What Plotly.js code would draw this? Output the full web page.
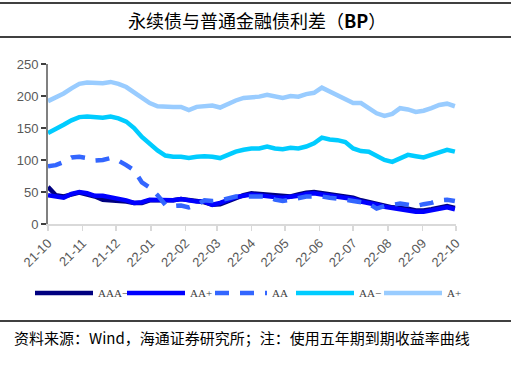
<!DOCTYPE html>
<html>
<head>
<meta charset="utf-8">
<script src="https://cdn.plot.ly/plotly-3.0.1.min.js"></script>
<style>html,body{margin:0;padding:0;background:#fff;}#chart{width:515px;height:372px;}</style>
</head>
<body>
<div id="chart"></div>
<script>
var dates = ["2021-10-01","2021-10-08","2021-10-15","2021-10-22","2021-10-29","2021-11-05","2021-11-12","2021-11-19","2021-11-26","2021-12-03","2021-12-10","2021-12-17","2021-12-24","2021-12-31","2022-01-07","2022-01-14","2022-01-21","2022-01-28","2022-02-04","2022-02-11","2022-02-18","2022-02-25","2022-03-04","2022-03-11","2022-03-18","2022-03-25","2022-04-01","2022-04-08","2022-04-15","2022-04-22","2022-04-29","2022-05-06","2022-05-13","2022-05-20","2022-05-27","2022-06-03","2022-06-10","2022-06-17","2022-06-24","2022-07-01","2022-07-08","2022-07-15","2022-07-22","2022-07-29","2022-08-05","2022-08-12","2022-08-19","2022-08-26","2022-09-02","2022-09-09","2022-09-16","2022-09-23","2022-09-30"];
var seriesNames = ["AAA−","AA+","AA","AA−","A+"];
var aaaMinus = [58,45,43,46,49,46,43,38,37,37,35,33,33,37,37,37,37,39,38,36,34,30,31,36,41,45,48,47,45,44,43,43,46,49,50,48,46,44,43,41,37,34,31,29,26,25,24,21,21,23,26,28,25];
var aaPlus = [45,43,41,47,50,48,44,44,42,40,37,33,34,38,38,38,37,39,37,35,35,30,33,38,42,44,46,45,43,42,41,42,44,47,48,46,44,42,41,39,35,33,30,27,25,24,22,19,19,21,24,26,23];
var aa = [90,92,97,104,105,103,99,100,103,99,92,84,65,57,45,30,28,29,26,30,37,36,37,40,43,43,43,43,43,38,36,38,41,43,43,43,41,40,38,36,34,32,24,28,30,32,30,28,31,33,37,38,36];
var aaMinus = [142,148,155,162,167,168,167,166,168,165,160,150,136,125,115,107,105,105,103,105,106,105,103,108,113,116,118,118,121,118,117,119,118,121,126,135,132,131,128,118,114,113,106,100,97,102,108,106,104,108,112,116,113];
var aPlus = [192,198,204,212,219,221,221,220,222,219,214,206,197,189,184,183,183,183,178,183,184,185,182,188,193,197,198,199,202,199,197,200,199,203,205,213,207,202,196,189,189,181,173,169,172,181,179,175,177,181,186,188,184];
var yTicks = [0,50,100,150,200,250];
var xTickVals = ["2021-10-01","2021-11-01","2021-12-01","2022-01-01","2022-02-01","2022-03-01","2022-04-01","2022-05-01","2022-06-01","2022-07-01","2022-08-01","2022-09-01","2022-10-01"];
var xTickText = ["21-10","21-11","21-12","22-01","22-02","22-03","22-04","22-05","22-06","22-07","22-08","22-09","22-10"];
var titleText = "永续债与普通金融债利差（<b>BP</b>）";
var sourceText = "资料来源：Wind，海通证券研究所；注：使用五年期到期收益率曲线";

var values = [aaaMinus, aaPlus, aa, aaMinus, aPlus];
var colors = ["#000080","#0000FF","#3366FF","#00CCFF","#99CCFF"];
var dashes = ["solid","solid","14px,11px","solid","solid"];
var legendIds = ["legend","legend2","legend3","legend4","legend5"];
var legendPx = [30, 122, 210, 291, 379];
var legendItemW = [58, 58, 52, 58, 58];
var traces = seriesNames.map(function(n,i){
  return {x: dates, y: values[i], name: n, type: "scatter", mode: "lines", legend: legendIds[i],
    line: {color: colors[i], width: 4.5, dash: dashes[i], shape: "linear"}};
});

var L = 48, R = 456, T = 64, B = 224;
function px(x){ return (x - L) / (R - L); }
function py(y){ return (B - y) / (B - T); }

var layout = {
  width: 515, height: 372,
  margin: {l: L, r: 515 - R, t: T, b: 372 - B},
  paper_bgcolor: "#fff", plot_bgcolor: "#fff",
  showlegend: true,
  font: {family: "Liberation Sans, Arial, sans-serif", size: 13, color: "#595959"},
  xaxis: {
    type: "date", range: ["2021-10-01","2022-10-01"],
    tickvals: xTickVals, ticktext: xTickText, tickangle: -45,
    showgrid: false, zeroline: false,
    showline: true, linecolor: "#d9d9d9", linewidth: 1.5,
    ticks: "outside", ticklen: 5, tickcolor: "#d9d9d9", tickwidth: 1.5,
    tickfont: {size: 13, color: "#595959"}
  },
  yaxis: {
    range: [0, 250], tickvals: yTicks,
    showgrid: false, zeroline: false,
    showline: true, linecolor: "#808080", linewidth: 2,
    ticks: "outside", ticklen: 5, tickcolor: "#404040", tickwidth: 1.5,
    tickfont: {size: 13, color: "#595959"}
  },
  shapes: [
    {type: "line", xref: "paper", yref: "paper", x0: px(0), x1: px(511), y0: py(3), y1: py(3), line: {color: "#000", width: 1.5}},
    {type: "line", xref: "paper", yref: "paper", x0: px(0), x1: px(511), y0: py(37), y1: py(37), line: {color: "#000", width: 1.5}},
    {type: "line", xref: "paper", yref: "paper", x0: px(0), x1: px(511), y0: py(321), y1: py(321), line: {color: "#000", width: 1.5}}
  ],
  annotations: [
    {text: titleText, xref: "paper", yref: "paper", x: px(257), y: py(20), xanchor: "center", yanchor: "middle", showarrow: false,
     font: {family: "Noto Sans CJK SC, sans-serif", size: 18, color: "#000"}},
    {text: sourceText, xref: "paper", yref: "paper", x: px(12), y: py(337), xanchor: "left", yanchor: "middle", showarrow: false,
     font: {family: "Noto Sans CJK SC, sans-serif", size: 15, color: "#000"}}
  ]
};
legendIds.forEach(function(id, i){
  layout[id] = {
    orientation: "h", x: px(legendPx[i]), y: py(293), xanchor: "left", yanchor: "middle",
    font: {family: "Liberation Serif, serif", size: 11, color: "#404040"},
    itemwidth: legendItemW[i], bgcolor: "rgba(0,0,0,0)"
  };
});
Plotly.newPlot("chart", traces, layout, {displayModeBar: false, staticPlot: true});
</script>
</body>
</html>
